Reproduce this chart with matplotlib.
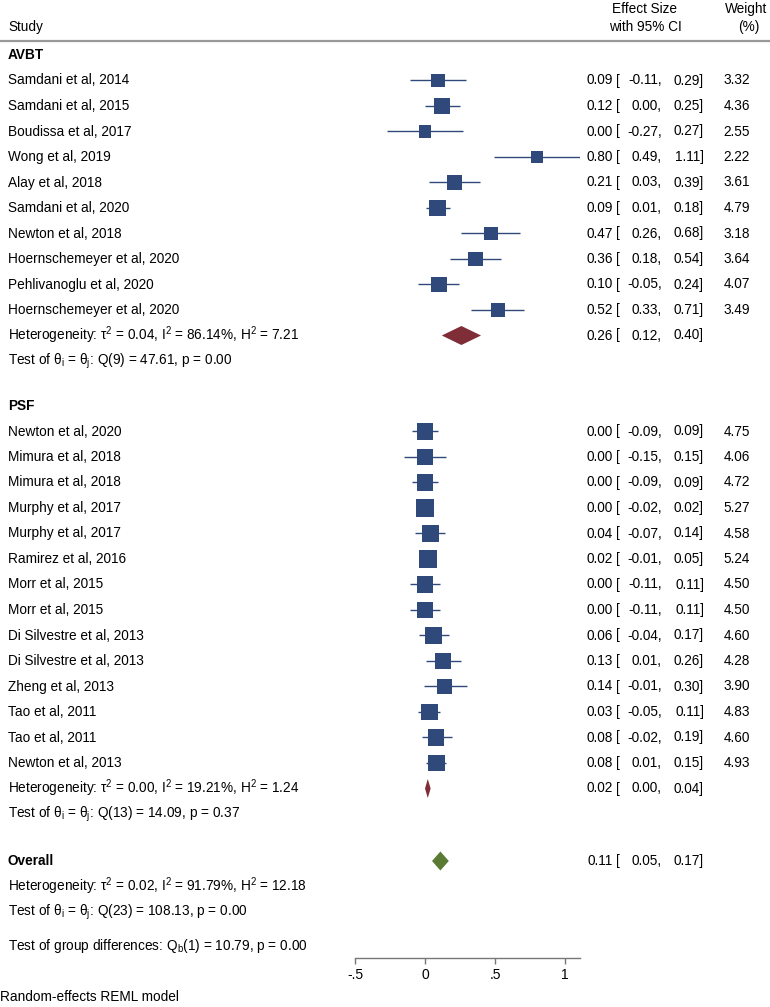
import numpy as np
import matplotlib
matplotlib.use("Agg")
import matplotlib.pyplot as plt
from matplotlib.patches import Polygon

plt.rcParams["font.family"] = ["Liberation Sans", "DejaVu Sans"]
plt.rcParams["mathtext.fontset"] = "custom"
plt.rcParams["mathtext.rm"] = "Liberation Sans"
plt.rcParams["mathtext.it"] = "Liberation Sans:italic"

# ── Data ──────────────────────────────────────────────────────
avbt_studies = ["Samdani et al, 2014", "Samdani et al, 2015", "Boudissa et al, 2017",
                "Wong et al, 2019", "Alay et al, 2018", "Samdani et al, 2020",
                "Newton et al, 2018", "Hoernschemeyer et al, 2020",
                "Pehlivanoglu et al, 2020", "Hoernschemeyer et al, 2020"]
avbt_es = [0.09, 0.12, 0.00, 0.80, 0.21, 0.09, 0.47, 0.36, 0.10, 0.52]
avbt_lo = [-0.11, 0.00, -0.27, 0.49, 0.03, 0.01, 0.26, 0.18, -0.05, 0.33]
avbt_hi = [0.29, 0.25, 0.27, 1.11, 0.39, 0.18, 0.68, 0.54, 0.24, 0.71]
avbt_w = [3.32, 4.36, 2.55, 2.22, 3.61, 4.79, 3.18, 3.64, 4.07, 3.49]

psf_studies = ["Newton et al, 2020", "Mimura et al, 2018", "Mimura et al, 2018",
               "Murphy et al, 2017", "Murphy et al, 2017", "Ramirez et al, 2016",
               "Morr et al, 2015", "Morr et al, 2015", "Di Silvestre et al, 2013",
               "Di Silvestre et al, 2013", "Zheng et al, 2013", "Tao et al, 2011",
               "Tao et al, 2011", "Newton et al, 2013"]
psf_es = [0.00, 0.00, 0.00, 0.00, 0.04, 0.02, 0.00, 0.00, 0.06, 0.13, 0.14, 0.03, 0.08, 0.08]
psf_lo = [-0.09, -0.15, -0.09, -0.02, -0.07, -0.01, -0.11, -0.11, -0.04, 0.01, -0.01, -0.05, -0.02, 0.01]
psf_hi = [0.09, 0.15, 0.09, 0.02, 0.14, 0.05, 0.11, 0.11, 0.17, 0.26, 0.30, 0.11, 0.19, 0.15]
psf_w = [4.75, 4.06, 4.72, 5.27, 4.58, 5.24, 4.50, 4.50, 4.60, 4.28, 3.90, 4.83, 4.60, 4.93]

avbt_pool = (0.26, 0.12, 0.40)
psf_pool = (0.02, 0.00, 0.04)
overall_pool = (0.11, 0.05, 0.17)

avbt_het = r"Heterogeneity: τ$^\mathregular{2}$ = 0.04, I$^\mathregular{2}$ = 86.14%, H$^\mathregular{2}$ = 7.21"
avbt_test = r"Test of θ$_\mathregular{i}$ = θ$_\mathregular{j}$: Q(9) = 47.61, p = 0.00"
psf_het = r"Heterogeneity: τ$^\mathregular{2}$ = 0.00, I$^\mathregular{2}$ = 19.21%, H$^\mathregular{2}$ = 1.24"
psf_test = r"Test of θ$_\mathregular{i}$ = θ$_\mathregular{j}$: Q(13) = 14.09, p = 0.37"
all_het = r"Heterogeneity: τ$^\mathregular{2}$ = 0.02, I$^\mathregular{2}$ = 91.79%, H$^\mathregular{2}$ = 12.18"
all_test = r"Test of θ$_\mathregular{i}$ = θ$_\mathregular{j}$: Q(23) = 108.13, p = 0.00"
group_test = r"Test of group differences: Q$_\mathregular{b}$(1) = 10.79, p = 0.00"

tick_vals = [-0.5, 0, 0.5, 1]
tick_labels = ["-.5", "0", ".5", "1"]

# ── Layout (pixel rows) ───────────────────────────────────────
W, H = 770, 1007
step = 25.5
FS = 9.8
SQ = "#2f4a7a"
RED = "#7f2d37"
GREEN = "#5b7a34"

avbt_head = 55
avbt_rows = avbt_head + step * np.arange(1, len(avbt_studies) + 1)
avbt_het_y = avbt_rows[-1] + step
avbt_test_y = avbt_het_y + step
psf_head = 406
psf_rows = psf_head + step * np.arange(1, len(psf_studies) + 1)
psf_het_y = psf_rows[-1] + step
psf_test_y = psf_het_y + step
overall_y = 861
all_het_y = overall_y + step
all_test_y = all_het_y + step
group_y = 946
model_y = 997

fig = plt.figure(figsize=(W / 100, H / 100), dpi=100)

# text layer in pixel coordinates
bg = fig.add_axes([0, 0, 1, 1])
bg.set_xlim(0, W)
bg.set_ylim(H, 0)
bg.axis("off")

# plot area
ax = fig.add_axes([355 / W, 1 - 958 / H, (580 - 355) / W, (958 - 40) / H])
ax.set_xlim(-0.5, 1.107)
ax.set_ylim(958, 40)
for s in ["top", "right", "left"]:
    ax.spines[s].set_visible(False)
ax.spines["bottom"].set_color("#777777")
ax.spines["bottom"].set_linewidth(1)
ax.set_yticks([])
ax.set_xticks(tick_vals)
ax.set_xticklabels(tick_labels, fontsize=10)
ax.tick_params(axis="x", color="#777777", length=4, width=1, pad=3)
ax.patch.set_alpha(0)

# ── Header ────────────────────────────────────────────────────
bg.text(8, 27, "Study", fontsize=FS, va="center")
bg.text(645, 9, "Effect Size", fontsize=FS, va="center", ha="center")
bg.text(645, 27, "with 95% CI", fontsize=FS, va="center", ha="center")
bg.text(767, 9, "Weight", fontsize=FS, va="center", ha="right")
bg.text(749, 27, "(%)", fontsize=FS, va="center", ha="center")
bg.plot([0, W], [41, 41], color="#999999", lw=1.6)


def ci_text(y, es, lo, hi, w=None):
    bg.text(613, y, f"{es:.2f}", fontsize=FS, va="center", ha="right")
    bg.text(616, y, "[", fontsize=FS, va="center", ha="left")
    bg.text(662, y, f"{lo:.2f},", fontsize=FS, va="center", ha="right")
    bg.text(704, y, f"{hi:.2f}]", fontsize=FS, va="center", ha="right")
    if w is not None:
        bg.text(750, y, f"{w:.2f}", fontsize=FS, va="center", ha="right")


def diamond(y, pool, color):
    es, lo, hi = pool
    ax.add_patch(Polygon([(lo, y), (es, y - 9.5), (hi, y), (es, y + 9.5)],
                         closed=True, color=color, lw=0, clip_on=False))


def section(head_y, name, rows, studies, es, lo, hi, w, pool, het_y, test_y, het, test):
    bg.text(8, head_y, name, fontsize=FS, fontweight="bold", va="center")
    for y, st, e, l, h, ww in zip(rows, studies, es, lo, hi, w):
        bg.text(8, y, st, fontsize=FS, va="center")
        ci_text(y, e, l, h, ww)
    ax.hlines(rows, lo, hi, color=SQ, lw=1, zorder=2)
    ax.scatter(es, rows, s=np.array(w) * 30, marker="s", color=SQ, lw=0, zorder=3)
    bg.text(8, het_y, het, fontsize=FS, va="center")
    bg.text(8, test_y, test, fontsize=FS, va="center")
    diamond(het_y, pool, RED)
    ci_text(het_y, *pool)


section(avbt_head, "AVBT", avbt_rows, avbt_studies, avbt_es, avbt_lo, avbt_hi, avbt_w,
        avbt_pool, avbt_het_y, avbt_test_y, avbt_het, avbt_test)
section(psf_head, "PSF", psf_rows, psf_studies, psf_es, psf_lo, psf_hi, psf_w,
        psf_pool, psf_het_y, psf_test_y, psf_het, psf_test)

bg.text(8, overall_y, "Overall", fontsize=FS, fontweight="bold", va="center")
diamond(overall_y, overall_pool, GREEN)
ci_text(overall_y, *overall_pool)
bg.text(8, all_het_y, all_het, fontsize=FS, va="center")
bg.text(8, all_test_y, all_test, fontsize=FS, va="center")
bg.text(8, group_y, group_test, fontsize=FS, va="center")
bg.text(0, model_y, "Random-effects REML model", fontsize=FS, va="center")

fig.savefig("out.png", dpi=100)
